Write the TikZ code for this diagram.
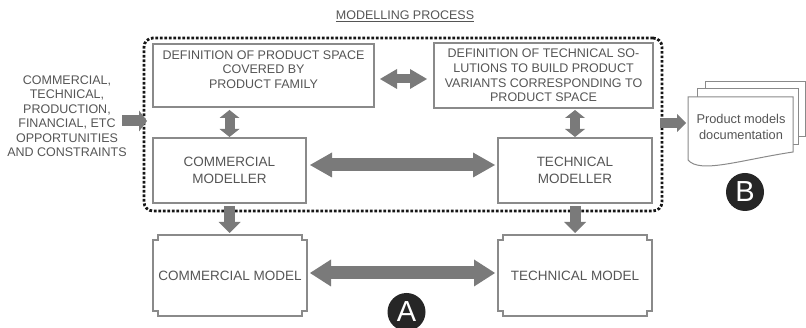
\documentclass[tikz,border=0pt]{standalone}
\usepackage{fontspec}
\setmainfont{Liberation Sans}
\usetikzlibrary{arrows.meta}
\definecolor{txtgray}{HTML}{555555}
\definecolor{edgegray}{HTML}{8A8A8A}
\definecolor{arrgray}{HTML}{7A7A7A}
\definecolor{dotblack}{HTML}{151515}
\definecolor{badgefill}{HTML}{262626}
\newcommand\notchframe[2]{%
 \draw[boxline] ([xshift=#2]#1.north west) -- ([xshift=-#2]#1.north east) -- ([xshift=-#2,yshift=-#2]#1.north east) -- ([yshift=-#2]#1.north east) -- ([yshift=#2]#1.south east) -- ([xshift=-#2,yshift=#2]#1.south east) -- ([xshift=-#2]#1.south east) -- ([xshift=#2]#1.south west) -- ([xshift=#2,yshift=#2]#1.south west) -- ([yshift=#2]#1.south west) -- ([yshift=-#2]#1.north west) -- ([xshift=#2,yshift=-#2]#1.north west) -- cycle;}
\begin{document}
\begin{tikzpicture}[x=1pt,y=-1pt,
  box/.style={draw=edgegray,line width=1.1pt,fill=white,inner sep=0pt,outer sep=0pt},
  plainbox/.style={inner sep=0pt,outer sep=0pt},
  boxline/.style={draw=edgegray,line width=1.1pt},
  deftext/.style={text=txtgray,font=\fontsize{12.5}{14.6}\selectfont,align=center,inner sep=0pt},
  modtext/.style={text=txtgray,font=\fontsize{13.5}{16.5}\selectfont,align=center,inner sep=0pt},
  fatline/.style={draw=arrgray,line width=#1},
  badge/.style={circle,fill=badgefill,text=white,minimum size=38pt,inner sep=0pt,font=\fontsize{29}{29}\selectfont},
  pagesheet/.style={fill=white,draw=edgegray,line width=1pt}
]
\useasboundingbox (0,0) rectangle (806,328);

% title
\node[deftext] (title) at (405,16) {\underline{MODELLING PROCESS}};

% modelling process frame
\node[draw=dotblack,line width=2.8pt,dash pattern=on 2.6pt off 1.9pt,rounded corners=9pt,
      minimum width=518pt,minimum height=173pt,inner sep=0pt,outer sep=0pt] (proc) at (403,124.5) {};

% definition boxes
\node[box,minimum width=221pt,minimum height=63pt] (b1) at (263.5,75.5) {};
\node[deftext] (b1t) at (263.5,69.5) {DEFINITION OF PRODUCT SPACE\\COVERED BY\\PRODUCT FAMILY};
\node[box,deftext,minimum width=219pt,minimum height=65pt] (b2) at (543.5,75.5)
  {DEFINITION OF TECHNICAL SO-\\LUTIONS TO BUILD PRODUCT\\VARIANTS CORRESPONDING TO\\PRODUCT SPACE};

% modellers
\node[box,modtext,minimum width=153pt,minimum height=65pt] (cm) at (229.5,170.5) {COMMERCIAL\\MODELLER};
\node[box,modtext,minimum width=154pt,minimum height=65pt] (tm) at (575,170.5) {TECHNICAL\\MODELLER};

% models
\node[plainbox,modtext,minimum width=154pt,minimum height=81pt] (cmod) at (230,275.5) {COMMERCIAL MODEL};
\node[plainbox,modtext,minimum width=154pt,minimum height=81pt] (tmod) at (575,275.5) {TECHNICAL MODEL};
\notchframe{cmod}{5pt}
\notchframe{tmod}{5pt}

% inputs text
\node[deftext,font=\fontsize{12.5}{14.5}\selectfont] (inputs) at (67,116)
  {COMMERCIAL,\\TECHNICAL,\\PRODUCTION,\\FINANCIAL, ETC\\OPPORTUNITIES\\AND CONSTRAINTS};

% documentation stack
\filldraw[pagesheet] (705,82) -- (805,82) -- (805,137) -- (705,137) -- cycle;
\filldraw[pagesheet] (697,89) -- (798,89) -- (798,145) -- (697,145) -- cycle;
\filldraw[pagesheet] (688,97) -- (793,97) -- (793,152) .. controls (740,160) and (700,174) .. (688,160) -- cycle;
\node[text=txtgray,font=\fontsize{12.8}{16.5}\selectfont,align=center,inner sep=0pt] (doc) at (741,127)
  {Product models\\documentation};
\coordinate (docin) at (688,123);

% arrows
\draw[fatline=13pt,{Triangle[length=22pt,width=25pt,line width=0pt]}-{Triangle[length=22pt,width=25pt,line width=0pt]}]
  ([xshift=4pt,yshift=5.5pt]cm.east) -- ([xshift=-3pt,yshift=5.5pt]tm.west);
\draw[fatline=13pt,{Triangle[length=21pt,width=27pt,line width=0pt]}-{Triangle[length=21pt,width=27pt,line width=0pt]}]
  ([xshift=3pt,yshift=2.5pt]cmod.east) -- ([xshift=-3pt,yshift=2.5pt]tmod.west);
\draw[fatline=9pt,{Triangle[length=17pt,width=20pt,line width=0pt]}-{Triangle[length=17pt,width=20pt,line width=0pt]}]
  ([xshift=6pt,yshift=-3.5pt]b1.east) -- ([xshift=-7pt,yshift=-3.5pt]b2.west);
\draw[fatline=10pt,{Triangle[length=8pt,width=20pt,line width=0pt]}-{Triangle[length=8pt,width=20pt,line width=0pt]},shorten <=3pt,shorten >=1pt]
  (cm.north |- b1.south) -- (cm.north);
\draw[fatline=10pt,{Triangle[length=8pt,width=20pt,line width=0pt]}-{Triangle[length=8pt,width=20pt,line width=0pt]},shorten <=2pt,shorten >=1pt]
  (tm.north |- b2.south) -- (tm.north);
\draw[fatline=11pt,-{Triangle[length=11pt,width=22pt,line width=0pt]},shorten <=3pt,shorten >=2pt]
  (cm.south) -- (cm.south |- cmod.north);
\draw[fatline=11pt,-{Triangle[length=11pt,width=22pt,line width=0pt]},shorten <=3pt,shorten >=2pt]
  (tm.south) -- (tm.south |- tmod.north);
\coordinate (inp) at (122,121);
\draw[fatline=11pt,-{Triangle[length=8pt,width=21pt,line width=0pt]},shorten >=-3pt]
  (inp) -- (inp -| proc.west);
\draw[fatline=10pt,-{Triangle[length=9pt,width=18pt,line width=0pt]},shorten <=-2pt,shorten >=2pt]
  (docin -| proc.east) -- (docin);

% badges
\node[badge] (A) at (406.5,312) {A};
\node[badge] (B) at (745,192) {B};
\end{tikzpicture}
\end{document}
